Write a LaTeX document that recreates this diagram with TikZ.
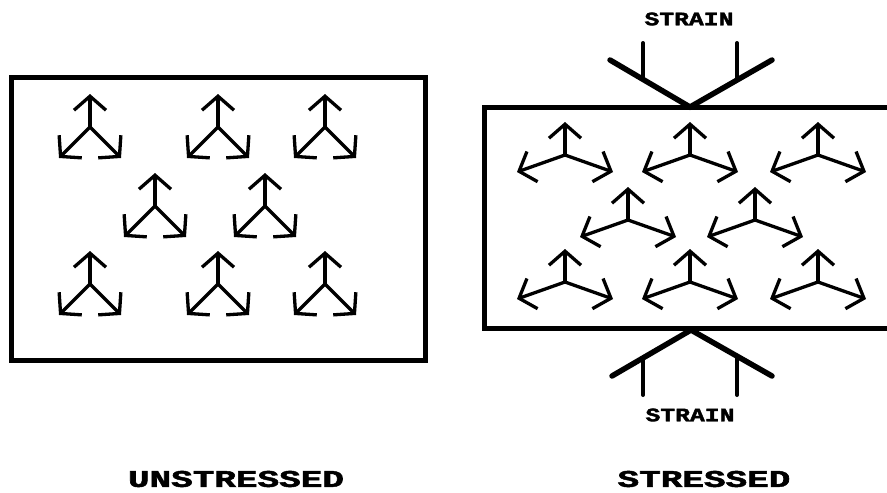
\documentclass[tikz,border=0pt]{standalone}
\usepackage{fontspec}
\usepackage{graphicx}
\newfontfamily\lblfont[FakeBold=1.8]{Liberation Mono}
\usetikzlibrary{arrows.meta}
\begin{document}
\begin{tikzpicture}[x=1pt,y=-1pt,
  arr/.style={line width=3.3pt,-{Straight Barb[length=14pt,width=32pt]}},
  box/.style={draw,line width=5pt,inner sep=0pt},
  strain/.style={line width=5.5pt,line cap=round},
  tick/.style={line width=4pt,line cap=round},
  small/.style={font=\lblfont\bfseries\fontsize{19}{19}\selectfont},
  big/.style={font=\lblfont\bfseries\fontsize{24}{24}\selectfont}]
\useasboundingbox (0,0) rectangle (887,493);
% boxes
\node[box,minimum width=413.5pt,minimum height=283pt] (unstressed) at (218.25,219) {};
\node[box,minimum width=410pt,minimum height=221pt] (stressed) at (689.5,218) {};
% unstressed tripods
\foreach \n/\x/\y in {a1/90/127,a2/218/127,a3/325/127,a4/155/206,a5/265/206,a6/90/284,a7/218/284,a8/325/284}{
  \coordinate (\n) at (\x,\y);
  \coordinate (\n u) at (\x,\y-33);
  \coordinate (\n l) at (\x-31,\y+31);
  \coordinate (\n r) at (\x+31,\y+31);
  \draw[arr] (\n) -- (\n u);
  \draw[arr] (\n) -- (\n l);
  \draw[arr] (\n) -- (\n r);
}
% stressed tripods
\foreach \n/\x/\y in {b1/565/155,b2/690/155,b3/818/155,b4/628/220,b5/755/220,b6/565/282,b7/690/282,b8/818/282}{
  \coordinate (\n) at (\x,\y);
  \coordinate (\n u) at (\x,\y-33);
  \coordinate (\n l) at (\x-48,\y+17);
  \coordinate (\n r) at (\x+48,\y+17);
  \draw[arr] (\n) -- (\n u);
  \draw[arr] (\n) -- (\n l);
  \draw[arr] (\n) -- (\n r);
}
% strain top
\coordinate (ta) at (690,107);
\coordinate (tl) at (610,60);
\coordinate (tr) at (772,60);
\coordinate (tlt) at (643,43);
\coordinate (trt) at (737,43);
\draw[strain] (tl) -- (ta) -- (tr);
\draw[tick] (tlt) -- (643,79);
\draw[tick] (trt) -- (737,79);
% strain bottom
\coordinate (ba) at (691,330);
\coordinate (bl) at (612,376);
\coordinate (br) at (772,376);
\coordinate (blt) at (643,395);
\coordinate (brt) at (737,395);
\draw[strain] (bl) -- (ba) -- (br);
\draw[tick] (blt) -- (643,358);
\draw[tick] (brt) -- (737,358);
% labels
\node[small] (st) at (689,19) {\scalebox{1.3}[1]{STRAIN}};
\node[small] (sb) at (690,415) {\scalebox{1.3}[1]{STRAIN}};
\node[big] (lu) at (236,479) {\scalebox{1.5}[1]{UNSTRESSED}};
\node[big] (ls) at (704,479) {\scalebox{1.5}[1]{STRESSED}};
\end{tikzpicture}
\end{document}
